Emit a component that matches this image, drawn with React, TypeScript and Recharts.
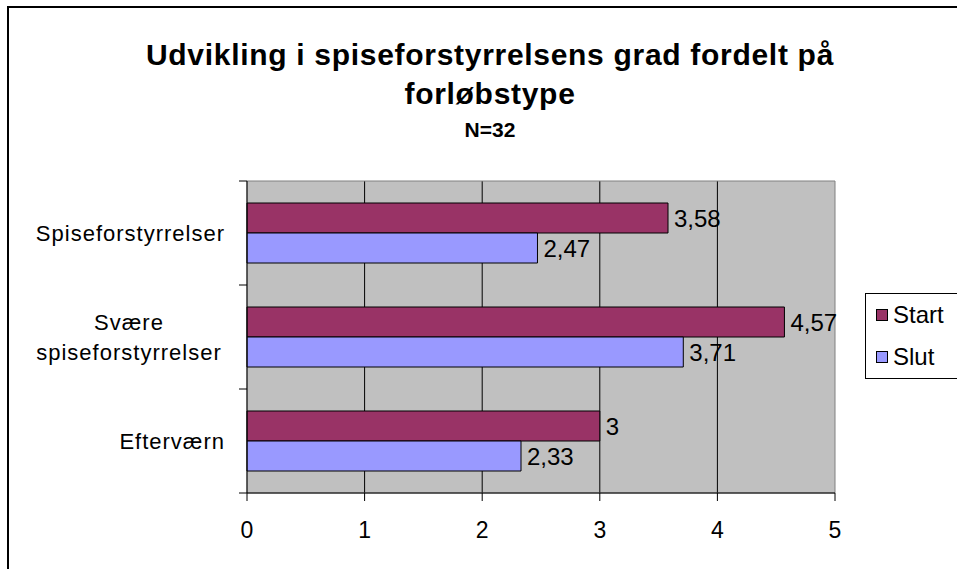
import React from "react";
import {
  BarChart,
  Bar,
  XAxis,
  YAxis,
  CartesianGrid,
  LabelList,
  ReferenceArea,
} from "recharts";

const categories: string[] = ["Spiseforstyrrelser", "Svære spiseforstyrrelser", "Efterværn"];
const startValues: number[] = [3.58, 4.57, 3];
const slutValues: number[] = [2.47, 3.71, 2.33];
const xTicks: number[] = [0, 1, 2, 3, 4, 5];
const categoryLines: string[][] = [["Spiseforstyrrelser"], ["Svære", "spiseforstyrrelser"], ["Efterværn"]];
const seriesNames: string[] = ["Start", "Slut"];
const seriesColors: string[] = ["#993366", "#9999FF"];

const data = categories.map((name, i) => ({
  name,
  Start: startValues[i],
  Slut: slutValues[i],
}));

const FONT = "'Liberation Sans', Arial, sans-serif";
const W = 957;
const H = 569;
const MARGIN = { top: 181, right: 122, bottom: 36, left: 0 };
const Y_AXIS_W = 247;
const X_AXIS_H = 40;
const PLOT_LEFT = MARGIN.left + Y_AXIS_W;
const PLOT_H = H - MARGIN.top - MARGIN.bottom - X_AXIS_H;
const BAND = PLOT_H / categories.length;

const fmt = (v: any) => String(v).replace(".", ",");

const CategoryTick = (props: any) => {
  const { x, y, payload, index } = props;
  const lines = categoryLines[index] || [String(payload.value)];
  const lh = 30;
  const n = lines.length;
  const top = y - BAND / 2;
  const bottom = y + BAND / 2;
  const longestApprox = 192;
  return (
    <g>
      <line x1={PLOT_LEFT - 8} x2={PLOT_LEFT} y1={top} y2={top} stroke="#000" strokeWidth={1} />
      {index === categories.length - 1 && (
        <line x1={PLOT_LEFT - 8} x2={PLOT_LEFT} y1={bottom} y2={bottom} stroke="#000" strokeWidth={1} />
      )}
      {lines.map((ln: string, i: number) => (
        <text
          key={i}
          x={n > 1 ? x - longestApprox / 2 : x}
          y={y + (i - (n - 1) / 2) * lh}
          dy="0.36em"
          textAnchor={n > 1 ? "middle" : "end"}
          fontFamily={FONT}
          fontSize={22}
          letterSpacing={1}
          fill="#000"
        >
          {ln}
        </text>
      ))}
    </g>
  );
};

const LegendBox = () => (
  <div
    style={{
      position: "absolute",
      left: 865,
      top: 293,
      width: 110,
      height: 86,
      boxSizing: "border-box",
      border: "1px solid #000",
      background: "#fff",
      fontFamily: FONT,
      fontSize: 24,
      color: "#000",
    }}
  >
    {seriesNames.map((name, i) => (
      <div key={name} style={{ height: 42, display: "flex", alignItems: "center", paddingLeft: 10 }}>
        <span
          style={{
            display: "inline-block",
            width: 12,
            height: 12,
            boxSizing: "border-box",
            border: "1px solid #000",
            background: seriesColors[i],
            marginRight: 5,
          }}
        />
        <span>{name}</span>
      </div>
    ))}
  </div>
);

export default function App() {
  return (
    <div style={{ position: "relative", width: W, height: H, overflow: "hidden", background: "#fff" }}>
      <style>{`html,body{margin:0;padding:0;overflow:hidden;background:#fff}`}</style>
      <div
        style={{
          position: "absolute",
          left: 7,
          top: 6,
          width: 1200,
          height: 800,
          borderLeft: "2px solid #000",
          borderTop: "2px solid #000",
        }}
      />
      <div
        style={{
          position: "absolute",
          left: 0,
          top: 0,
          width: 980,
          textAlign: "center",
          fontFamily: FONT,
          fontWeight: "bold",
          color: "#000",
        }}
      >
        <div style={{ position: "absolute", left: 0, width: 980, top: 40, fontSize: 30, lineHeight: "30px", letterSpacing: 0.7 }}>
          Udvikling i spiseforstyrrelsens grad fordelt på
        </div>
        <div style={{ position: "absolute", left: 0, width: 980, top: 79, fontSize: 30, lineHeight: "30px", letterSpacing: 0.7 }}>
          forløbstype
        </div>
        <div style={{ position: "absolute", left: 0, width: 980, top: 119, fontSize: 21, lineHeight: "21px" }}>
          N=32
        </div>
      </div>
      <div style={{ position: "absolute", left: 0, top: 0 }}>
        <BarChart
          width={W}
          height={H}
          data={data}
          layout="vertical"
          margin={MARGIN}
          barSize={30}
          barGap={0}
        >
          <CartesianGrid
            horizontal={false}
            vertical={true}
            verticalValues={xTicks.slice(1, -1)}
            stroke="#000"
            strokeWidth={1}
            fill="#C0C0C0"
            fillOpacity={1}
          />
          <ReferenceArea x1={0} x2={5} fill="none" stroke="#808080" strokeWidth={1} ifOverflow="visible" />
          <XAxis
            type="number"
            domain={[0, 5]}
            ticks={xTicks}
            interval={0}
            height={X_AXIS_H}
            tickSize={8}
            tickMargin={21}
            axisLine={{ stroke: "#000", strokeWidth: 1 }}
            tickLine={{ stroke: "#000", strokeWidth: 1 }}
            tick={{ fill: "#000", fontSize: 23, fontFamily: FONT }}
          />
          <YAxis
            type="category"
            dataKey="name"
            width={Y_AXIS_W}
            tickSize={8}
            tickMargin={14}
            tickLine={false}
            axisLine={{ stroke: "#000", strokeWidth: 1 }}
            tick={<CategoryTick />}
            interval={0}
          />
          {seriesNames.map((name, i) => (
            <Bar
              key={name}
              dataKey={name}
              fill={seriesColors[i]}
              stroke="#000"
              strokeWidth={1}
              isAnimationActive={false}
            >
              <LabelList
                dataKey={name}
                position="right"
                offset={6}
                formatter={fmt}
                style={{ fill: "#000", fontSize: 24, fontFamily: FONT }}
              />
            </Bar>
          ))}
        </BarChart>
      </div>
      <LegendBox />
    </div>
  );
}
